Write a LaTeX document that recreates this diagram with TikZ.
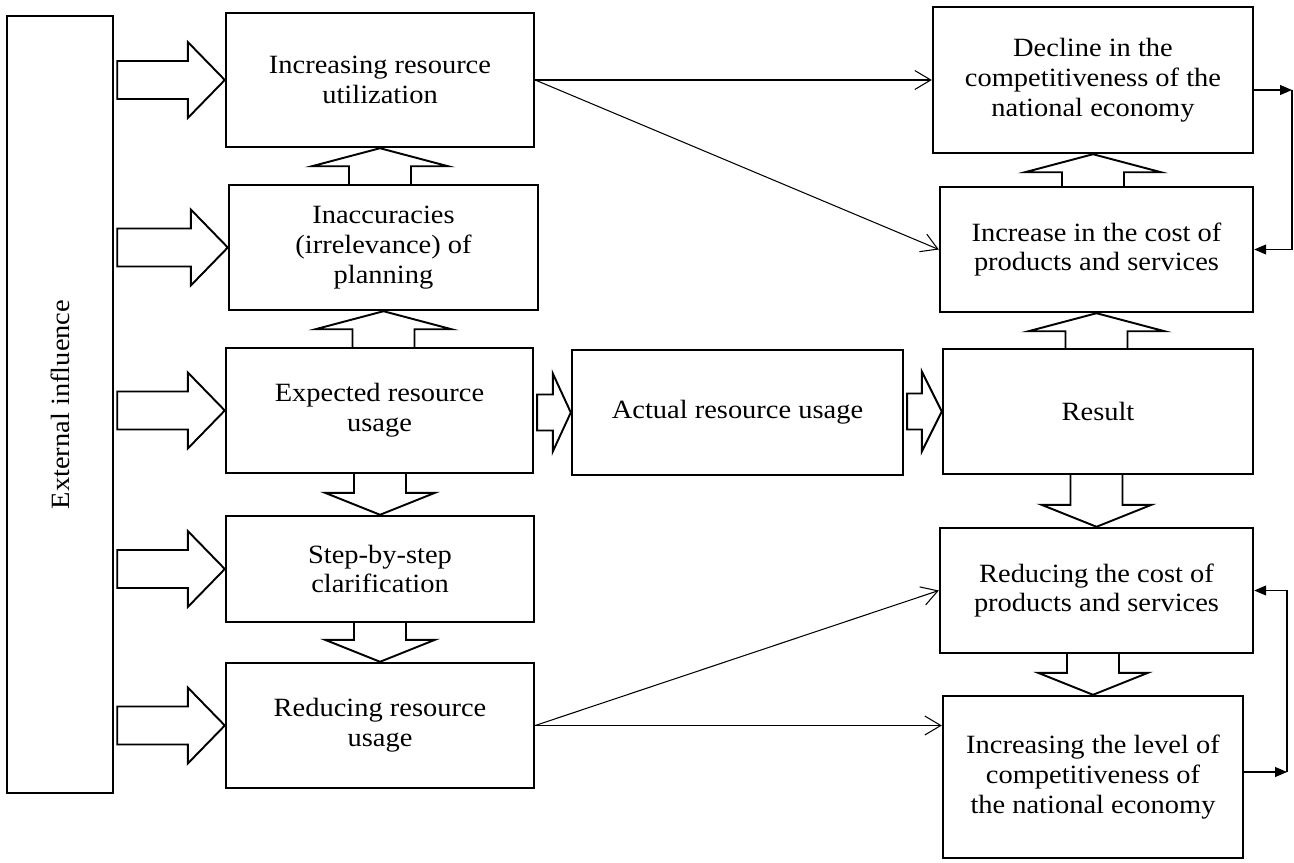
\documentclass[tikz,border=0pt]{standalone}
\usepackage{graphicx,xcolor}
\usepackage{fontspec}
\setmainfont{Liberation Serif}[FakeStretch=1.08]
\usepackage{tikz}
\usetikzlibrary{arrows.meta}
\usetikzlibrary{calc}
\usetikzlibrary{positioning}

\tikzset{
  box/.style={draw, line width=1.4pt, align=center, inner sep=0pt, font=\fontsize{15}{17}\selectfont},
  fatarrow/.style={line width=1.1pt, line join=miter},
  thinarrow/.style={line width=0.6pt, -{Straight Barb[length=3.2mm, width=3.8mm]}},
  fbarrow/.style={line width=0.6pt, -{Triangle[length=2.4mm, width=2mm]}}
}

% wide arrows between boxes (coordinates in px, y pointing down)
\newcommand{\fatright}[5]{%
  \draw[fatarrow] ($(#1)+(3,-#3)$) -- ($(#2)+(-#5,-#3)$) -- ($(#2)+(-#5,-#4)$) -- (#2)
    -- ($(#2)+(-#5,#4)$) -- ($(#2)+(-#5,#3)$) -- ($(#1)+(3,#3)$) -- cycle;}
\newcommand{\fatup}[2]{%
  \draw[fatarrow] ($(#2 |- #1)+(-31,0)$) |- ($(#2)+(-68,18)$) -- (#2)
    -- ($(#2)+(68,18)$) -| ($(#2 |- #1)+(31,0)$);}
\newcommand{\fatdown}[2]{%
  \draw[fatarrow] ($(#2 |- #1)+(-26,0)$) |- ($(#2)+(-55,-22)$) -- (#2)
    -- ($(#2)+(55,-22)$) -| ($(#2 |- #1)+(26,0)$);}

\begin{document}
\begin{tikzpicture}[x=0.02cm, y=-0.02cm]

    \useasboundingbox (0,0) rectangle (1294,862);

    % left column
    \node[box, minimum width=2.12cm, minimum height=15.54cm] (ext) at (60,404.5) {\rotatebox{90}{External influence}};
    \node[box, minimum width=6.16cm, minimum height=2.68cm] (util) at (380,80) {Increasing resource\\utilization};
    \node[box, minimum width=6.18cm, minimum height=2.5cm] (plan) at (383.5,247.5) {Inaccuracies\\(irrelevance) of\\planning};
    \node[box, minimum width=6.14cm, minimum height=2.5cm] (expect) at (379.5,410.5) {Expected resource\\usage};
    \node[box, minimum width=6.16cm, minimum height=2.12cm] (clarify) at (380,569) {Step-by-step\\clarification};
    \node[box, minimum width=6.16cm, minimum height=2.5cm] (reduce) at (380,725.5) {Reducing resource\\usage};

    % middle
    \node[box, minimum width=6.62cm, minimum height=2.5cm] (actual) at (737.5,412.5) {Actual resource usage};

    % right column
    \node[box, minimum width=6.4cm, minimum height=2.92cm] (decline) at (1093,80) {Decline in the\\competitiveness of the\\national economy};
    \node[box, minimum width=6.26cm, minimum height=2.5cm] (costup) at (1096.5,249.5) {Increase in the cost of\\products and services};
    \node[box, minimum width=6.2cm, minimum height=2.5cm] (result) at (1098,411.5) {Result};
    \node[box, minimum width=6.26cm, minimum height=2.5cm] (costdown) at (1096.5,590.5) {Reducing the cost of\\products and services};
    \node[box, minimum width=6cm, minimum height=3.24cm] (level) at (1093,777) {Increasing the level of\\competitiveness of\\the national economy};

    % external influence
    \fatright{ext.east |- util.west}{util.west}{19}{38}{37}
    \fatright{ext.east |- plan.west}{plan.west}{19}{38}{37}
    \fatright{ext.east |- expect.west}{expect.west}{19}{38}{37}
    \fatright{ext.east |- clarify.west}{clarify.west}{19}{38}{37}
    \fatright{ext.east |- reduce.west}{reduce.west}{19}{38}{37}

    % planning chain
    \fatup{plan.north}{util.south}
    \fatup{expect.north}{plan.south}
    \fatdown{expect.south}{clarify.north}
    \fatdown{clarify.south}{reduce.north}
    \fatright{expect.east |- actual.west}{actual.west}{18}{39}{18}
    \fatright{actual.east |- result.west}{result.west}{18}{40}{20}

    % result chain
    \fatup{result.north}{costup.south}
    \fatup{costup.north}{decline.south}
    \fatdown{result.south}{costdown.north}
    \fatdown{costdown.south}{level.north}

    % consequences
    \draw[thinarrow] (util.east) -- (util.east -| decline.west);
    \draw[thinarrow] (util.east) -- (costup.west);
    \draw[thinarrow] (reduce.east) -- (costdown.west);
    \draw[thinarrow] (reduce.east) -- (reduce.east -| level.west);

    % feedback
    \coordinate (fbtop) at (1292,90);
    \coordinate (fbbot) at (1287,772);
    \draw[fbarrow] (decline.east |- fbtop) -- (fbtop);
    \draw[fbarrow] (fbtop) |- (costup.east);
    \draw[fbarrow] (level.east |- fbbot) -- (fbbot);
    \draw[fbarrow] (fbbot) |- (costdown.east);

\end{tikzpicture}
\end{document}
